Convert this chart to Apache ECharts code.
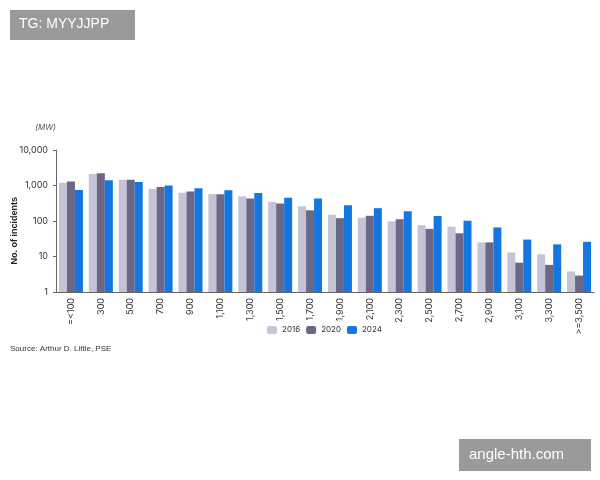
<!DOCTYPE html>
<html lang="en">
<head>
  <meta charset="UTF-8">
  <script src="https://cdn.jsdelivr.net/npm/echarts@6/dist/echarts.min.js"></script>
  <style>
    html, body { margin: 0; background: #fff; }
    #main { width: 600px; height: 480px; }
  </style>
</head>
<body>
  <div id="main"></div>
  <script>
    var categories = ['=<100', '300', '500', '700', '900', '1,100', '1,300', '1,500', '1,700', '1,900', '2,100', '2,300', '2,500', '2,700', '2,900', '3,100', '3,300', '>=3,500']
    var v2016 = [1200, 2100, 1450, 800, 620, 580, 500, 350, 260, 150, 124, 98, 76, 69, 25, 13, 11.5, 3.8]
    var v2020 = [1300, 2200, 1450, 900, 680, 570, 430, 310, 200, 120, 140, 112, 60, 45, 25, 6.7, 5.8, 2.9]
    var v2024 = [750, 1400, 1250, 1000, 830, 730, 610, 450, 430, 280, 230, 188, 138, 102, 66, 30, 22, 26]

    var myChart = echarts.init(document.getElementById('main'))
    var bar = function (name, data, color) {
      return { name: name, type: 'bar', data: data, barWidth: 8, barGap: '0%', barCategoryGap: '22%', itemStyle: { color: color } }
    }
    myChart.setOption({
      textStyle: { fontFamily: 'Inter, sans-serif' },
      animation: false,
      grid: { left: 56, right: 6, top: 150, bottom: 188 },
      legend: {
        bottom: 141, left: 262, itemWidth: 10, itemHeight: 8, itemGap: 6,
        textStyle: { fontSize: 8, color: '#333' },
        data: ['2016', '2020', '2024']
      },
      xAxis: {
        type: 'category', data: categories,
        axisTick: { show: false },
        axisLine: { lineStyle: { color: '#666' } },
        axisLabel: { rotate: 90, interval: 0, fontSize: 9, color: '#333', margin: 6 }
      },
      yAxis: {
        type: 'log', logBase: 10, min: 1, max: 10000,
        name: '(MW)', nameLocation: 'end', nameGap: 18,
        nameTextStyle: { fontSize: 8, fontStyle: 'italic', color: '#555', align: 'right', padding: [0, 0, 0, 0] },
        splitLine: { show: false },
        axisLine: { show: true, lineStyle: { color: '#666' } },
        axisTick: { show: true, length: 3 },
        axisLabel: { fontSize: 9, color: '#333', formatter: function (v) { return v.toLocaleString('en-US') } }
      },
      series: [bar('2016', v2016, '#c5c4d7'), bar('2020', v2020, '#6b6787'), bar('2024', v2024, '#1477e0')],
      graphic: [
        { type: 'text', left: 10, top: 197, rotation: Math.PI / 2, style: { text: 'No. of incidents', fontSize: 9, fontWeight: 'bold', fill: '#222' } },
        { type: 'text', left: 10, top: 345, style: { text: 'Source: Arthur D. Little, PSE', fontSize: 8, fill: '#333' } },
        { type: 'rect', left: 10, top: 10, shape: { width: 125, height: 30 }, style: { fill: '#9a9a9a' } },
        { type: 'text', left: 19, top: 17, style: { text: 'TG: MYYJJPP', fontSize: 14, fill: '#fff' } },
        { type: 'rect', left: 459, top: 439, shape: { width: 132, height: 32 }, style: { fill: '#9a9a9a' } },
        { type: 'text', left: 469, top: 447, style: { text: 'angle-hth.com', fontSize: 15, fill: '#fff' } }
      ]
    })
  </script>
</body>
</html>
